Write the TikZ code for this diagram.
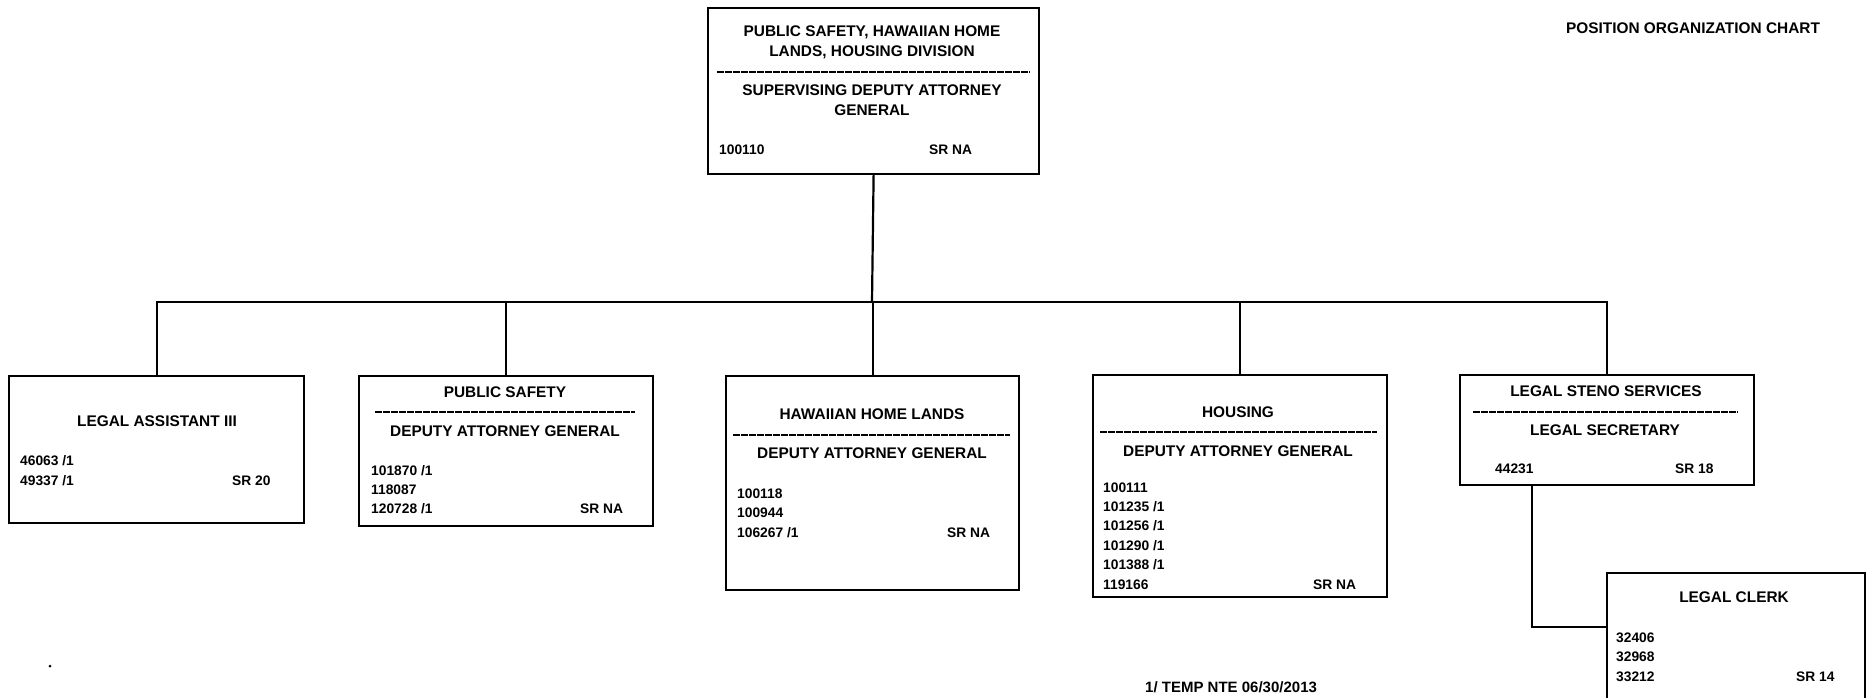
\documentclass[tikz,border=0pt]{standalone}
\usepackage{fontspec}
\setmainfont{Liberation Sans}
\usetikzlibrary{positioning}

\begin{document}
\begin{tikzpicture}[x=1pt,y=-1pt,
    posbox/.style={draw, line width=2.2pt, anchor=north west, inner sep=0pt},
    head/.style={font=\bfseries\fontsize{15.4}{20}\selectfont, align=center, inner sep=0pt},
    num/.style={font=\bfseries\fontsize{13.8}{16}\selectfont, anchor=west, inner sep=0pt,
        text height=10pt, text depth=0pt},
    link/.style={line width=2.2pt},
    sepline/.style={line width=1.4pt, dash pattern=on 7pt off 1pt}]
\path[use as bounding box, fill=white] (0,0) rectangle (1866,698);

\node[head] (chart) at (1693,28) {POSITION ORGANIZATION CHART};

% division head
\node[posbox, minimum width=331, minimum height=166] (top) at (707,7) {};
\node[head] (top-unit) at (872,42) {PUBLIC SAFETY, HAWAIIAN HOME\\LANDS, HOUSING DIVISION};
\draw[sepline] (717,72) -- (1030,72);
\node[head] (top-title) at (872,100) {SUPERVISING DEPUTY ATTORNEY\\GENERAL};
\node[num] (top-n1) at (719,150) {100110};
\node[num] (top-sr) at (929,150) {SR NA};

% legal assistant
\node[posbox, minimum width=295, minimum height=147] (la) at (8,375) {};
\node[head] (la-title) at (157,421) {LEGAL ASSISTANT III};
\foreach \n [count=\i] in {46063 /1, 49337 /1}
    \node[num] (la-n\i) at (20,{460+20*(\i-1)}) {\n};
\node[num] (la-sr) at (232,480) {SR 20};

% public safety
\node[posbox, minimum width=294, minimum height=150] (ps) at (358,375) {};
\node[head] (ps-unit) at (505,392) {PUBLIC SAFETY};
\draw[sepline] (375,412) -- (635,412);
\node[head] (ps-title) at (505,431) {DEPUTY ATTORNEY GENERAL};
\foreach \n [count=\i] in {101870 /1, 118087, 120728 /1}
    \node[num] (ps-n\i) at (371,{470+19.2*(\i-1)}) {\n};
\node[num] (ps-sr) at (580,508) {SR NA};

% hawaiian home lands
\node[posbox, minimum width=293, minimum height=214] (hhl) at (725,375) {};
\node[head] (hhl-unit) at (872,414) {HAWAIIAN HOME LANDS};
\draw[sepline] (733,435) -- (1010,435);
\node[head] (hhl-title) at (872,453) {DEPUTY ATTORNEY GENERAL};
\foreach \n [count=\i] in {100118, 100944, 106267 /1}
    \node[num] (hhl-n\i) at (737,{493+19.5*(\i-1)}) {\n};
\node[num] (hhl-sr) at (947,532) {SR NA};

% housing
\node[posbox, minimum width=294, minimum height=222] (hou) at (1092,374) {};
\node[head] (hou-unit) at (1238,412) {HOUSING};
\draw[sepline] (1100,432) -- (1377,432);
\node[head] (hou-title) at (1238,451) {DEPUTY ATTORNEY GENERAL};
\foreach \n [count=\i] in {100111, 101235 /1, 101256 /1, 101290 /1, 101388 /1, 119166}
    \node[num] (hou-n\i) at (1103,{487+19.4*(\i-1)}) {\n};
\node[num] (hou-sr) at (1313,584) {SR NA};

% legal steno services
\node[posbox, minimum width=294, minimum height=110] (lss) at (1459,374) {};
\node[head] (lss-unit) at (1606,391) {LEGAL STENO SERVICES};
\draw[sepline] (1473,412) -- (1738,412);
\node[head] (lss-title) at (1605,430) {LEGAL SECRETARY};
\node[num] (lss-n1) at (1495,468) {44231};
\node[num] (lss-sr) at (1675,468) {SR 18};

% legal clerk
\node[posbox, minimum width=258, minimum height=140] (lc) at (1606,572) {};
\node[head] (lc-title) at (1734,597) {LEGAL CLERK};
\foreach \n [count=\i] in {32406, 32968, 33212}
    \node[num] (lc-n\i) at (1616,{637+19.5*(\i-1)}) {\n};
\node[num] (lc-sr) at (1796,676) {SR 14};

% lines
\coordinate (bus) at (872,302);
\draw[link] (top.south) -- (bus);
\foreach \b in {la,ps,hhl,hou,lss}
    \draw[link] (bus) -| (\b.north);
\draw[link] ([xshift=73pt]lss.south west) |- ([yshift=-55pt]lc.north west);

\node[num, font=\bfseries\fontsize{15}{16}\selectfont] (note) at (1145,687) {1/ TEMP NTE 06/30/2013};
\fill (50,666) circle[radius=1.5pt];
\end{tikzpicture}
\end{document}
